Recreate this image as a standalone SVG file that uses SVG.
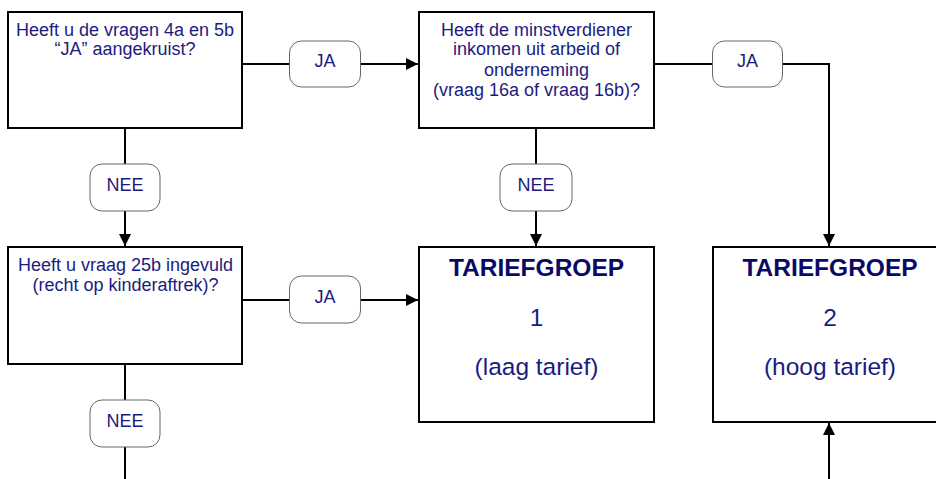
<svg xmlns="http://www.w3.org/2000/svg" width="936" height="479" viewBox="0 0 936 479">
<style>
.box{fill:#fff;stroke:#000;stroke-width:2}
.lbl{fill:#fff;stroke:#666;stroke-width:1}
.ln{fill:none;stroke:#000;stroke-width:2}
.t{font-family:"Liberation Sans",Arial,sans-serif;font-size:18px;fill:#1c1c80;text-anchor:middle}
.tl{font-family:"Liberation Sans",Arial,sans-serif;font-size:18px;fill:#1c1c80;text-anchor:middle}
.tb{font-family:"Liberation Sans",Arial,sans-serif;font-size:24.5px;font-weight:bold;fill:#0a0a66;text-anchor:middle}
.tn{font-family:"Liberation Sans",Arial,sans-serif;font-size:24.5px;fill:#1c1c80;text-anchor:middle}
</style>
<defs>
<marker id="ah" markerWidth="12" markerHeight="12" refX="12" refY="6" orient="auto" markerUnits="userSpaceOnUse">
<path d="M0,0 L12,6 L0,12 Z" fill="#000"/>
</marker>
</defs>
<rect width="936" height="479" fill="#fff"/>
<g id="connectors">
<path class="ln" d="M242,64 H418" marker-end="url(#ah)"/>
<path class="ln" d="M125,128 V246" marker-end="url(#ah)"/>
<path class="ln" d="M654,64 H829 V246" marker-end="url(#ah)"/>
<path class="ln" d="M536,128 V246" marker-end="url(#ah)"/>
<path class="ln" d="M242,300 H418" marker-end="url(#ah)"/>
<path class="ln" d="M125,364 V479"/>
<path class="ln" d="M829,479 V423" marker-end="url(#ah)"/>
</g>
<g id="q1">
<rect class="box" x="8" y="12" width="234" height="116"/>
<text class="t" x="125" y="35.5">Heeft u de vragen 4a en 5b</text>
<text class="t" x="125" y="54.5">“JA” aangekruist?</text>
</g>
<g id="q2">
<rect class="box" x="419" y="12" width="235" height="116"/>
<text class="t" x="536.5" y="35.5">Heeft de minstverdiener</text>
<text class="t" x="536.5" y="55">inkomen uit arbeid of</text>
<text class="t" x="536.5" y="75.5">onderneming</text>
<text class="t" x="536.5" y="96">(vraag 16a of vraag 16b)?</text>
</g>
<g id="q3">
<rect class="box" x="8" y="247" width="234" height="117"/>
<text class="t" x="125.5" y="271">Heeft u vraag 25b ingevuld</text>
<text class="t" x="125.5" y="290.5">(recht op kinderaftrek)?</text>
</g>
<g id="t1">
<rect class="box" x="419" y="247" width="235" height="175"/>
<text class="tb" x="536.5" y="276">TARIEFGROEP</text>
<text class="tn" x="536.5" y="325.5">1</text>
<text class="tn" x="536.5" y="374.5">(laag tarief)</text>
</g>
<g id="t2">
<rect class="box" x="713" y="247" width="235" height="175"/>
<text class="tb" x="830" y="276">TARIEFGROEP</text>
<text class="tn" x="830" y="325.5">2</text>
<text class="tn" x="830" y="374.5">(hoog tarief)</text>
</g>
<g id="l1">
<rect class="lbl" x="289.5" y="41" width="71" height="46" rx="12"/>
<text class="tl" x="325" y="67">JA</text>
</g>
<g id="l2">
<rect class="lbl" x="712.5" y="41" width="70" height="46" rx="12"/>
<text class="tl" x="747.5" y="67">JA</text>
</g>
<g id="l3">
<rect class="lbl" x="90" y="164" width="70" height="47" rx="12"/>
<text class="tl" x="125" y="190.5">NEE</text>
</g>
<g id="l4">
<rect class="lbl" x="500" y="164" width="72" height="47" rx="12"/>
<text class="tl" x="536" y="190.5">NEE</text>
</g>
<g id="l5">
<rect class="lbl" x="289.5" y="276" width="71" height="47" rx="12"/>
<text class="tl" x="325" y="303">JA</text>
</g>
<g id="l6">
<rect class="lbl" x="90" y="400" width="70" height="47" rx="12"/>
<text class="tl" x="125" y="426.5">NEE</text>
</g>
</svg>
